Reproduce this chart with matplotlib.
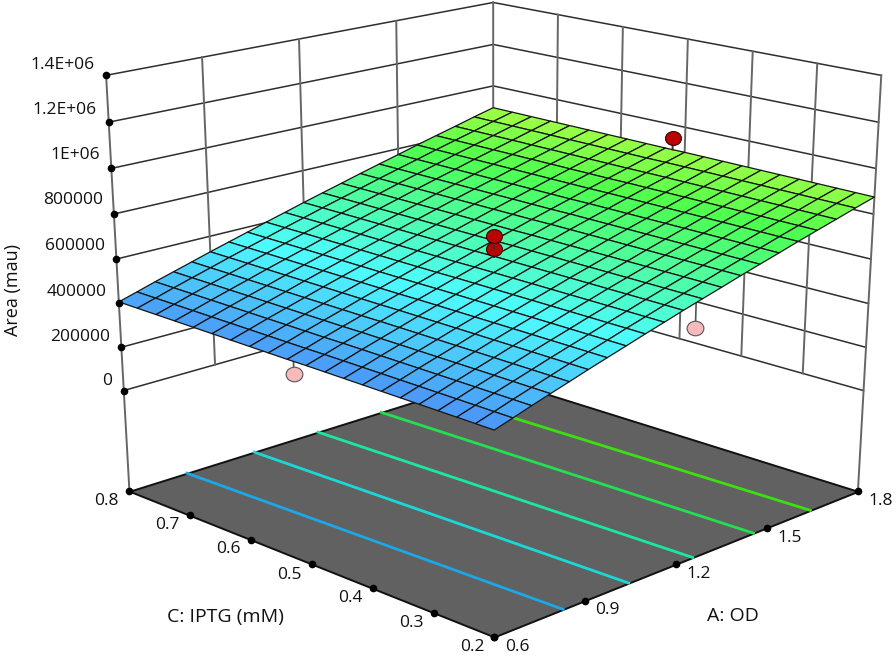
import numpy as np
import matplotlib
matplotlib.use("Agg")
import matplotlib.pyplot as plt
from matplotlib.colors import LinearSegmentedColormap, Normalize
from matplotlib.markers import MarkerStyle
from matplotlib.transforms import Affine2D
from mpl_toolkits.mplot3d.art3d import Poly3DCollection

plt.rcParams["font.family"] = "Open Sans"

# axis values
a_ticks = [0.6, 0.9, 1.2, 1.5, 1.8]
c_ticks = [0.2, 0.3, 0.4, 0.5, 0.6, 0.7, 0.8]
z_ticks = [0, 2e5, 4e5, 6e5, 8e5, 1e6, 1.2e6, 1.4e6]
z_labels = ["0", "200000", "400000", "600000", "800000", "1E+06", "1.2E+06", "1.4E+06"]
a_labels = ["0.6", "0.9", "1.2", "1.5", "1.8"]
c_labels = ["0.2", "0.3", "0.4", "0.5", "0.6", "0.7", "0.8"]
floor_z = -475932

# response surface, rows are A, columns are C, in thousands of mau
a_grid = [0.60, 0.66, 0.72, 0.78, 0.84, 0.90, 0.96, 1.02, 1.08, 1.14, 1.20,
          1.26, 1.32, 1.38, 1.44, 1.50, 1.56, 1.62, 1.68, 1.74, 1.80]
c_grid = [0.20, 0.23, 0.26, 0.29, 0.32, 0.35, 0.38, 0.41, 0.44, 0.47, 0.50,
          0.53, 0.56, 0.59, 0.62, 0.65, 0.68, 0.71, 0.74, 0.77, 0.80]
area_grid = [
    [388, 389, 390, 391, 392, 393, 394, 395, 396, 397, 398, 398, 399, 400, 401, 402, 403, 404, 405, 406, 407],
    [412, 413, 414, 415, 416, 417, 418, 419, 420, 421, 422, 422, 423, 424, 425, 426, 427, 428, 429, 430, 431],
    [437, 438, 439, 440, 441, 442, 443, 444, 445, 446, 447, 447, 448, 449, 450, 451, 452, 453, 454, 455, 456],
    [461, 462, 463, 464, 465, 466, 467, 468, 469, 470, 471, 471, 472, 473, 474, 475, 476, 477, 478, 479, 480],
    [485, 486, 487, 488, 489, 490, 491, 492, 493, 494, 495, 495, 496, 497, 498, 499, 500, 501, 502, 503, 504],
    [510, 511, 512, 513, 514, 515, 516, 517, 518, 519, 520, 520, 521, 522, 523, 524, 525, 526, 527, 528, 529],
    [534, 535, 536, 537, 538, 539, 540, 541, 542, 543, 544, 544, 545, 546, 547, 548, 549, 550, 551, 552, 553],
    [558, 559, 560, 561, 562, 563, 564, 565, 566, 567, 568, 568, 569, 570, 571, 572, 573, 574, 575, 576, 577],
    [583, 584, 585, 586, 587, 588, 589, 590, 591, 592, 593, 593, 594, 595, 596, 597, 598, 599, 600, 601, 602],
    [607, 608, 609, 610, 611, 612, 613, 614, 615, 616, 617, 617, 618, 619, 620, 621, 622, 623, 624, 625, 626],
    [632, 633, 634, 635, 636, 637, 638, 639, 640, 641, 642, 642, 643, 644, 645, 646, 647, 648, 649, 650, 651],
    [656, 657, 658, 659, 660, 661, 662, 663, 664, 665, 666, 666, 667, 668, 669, 670, 671, 672, 673, 674, 675],
    [680, 681, 682, 683, 684, 685, 686, 687, 688, 689, 690, 690, 691, 692, 693, 694, 695, 696, 697, 698, 699],
    [705, 706, 707, 708, 709, 710, 711, 712, 713, 714, 715, 715, 716, 717, 718, 719, 720, 721, 722, 723, 724],
    [729, 730, 731, 732, 733, 734, 735, 736, 737, 738, 739, 739, 740, 741, 742, 743, 744, 745, 746, 747, 748],
    [753, 754, 755, 756, 757, 758, 759, 760, 761, 762, 763, 763, 764, 765, 766, 767, 768, 769, 770, 771, 772],
    [778, 779, 780, 781, 782, 783, 784, 785, 786, 787, 788, 788, 789, 790, 791, 792, 793, 794, 795, 796, 797],
    [802, 803, 804, 805, 806, 807, 808, 809, 810, 811, 812, 812, 813, 814, 815, 816, 817, 818, 819, 820, 821],
    [826, 827, 828, 829, 830, 831, 832, 833, 834, 835, 836, 836, 837, 838, 839, 840, 841, 842, 843, 844, 845],
    [851, 852, 853, 854, 855, 856, 857, 858, 859, 860, 861, 861, 862, 863, 864, 865, 866, 867, 868, 869, 870],
    [875, 876, 877, 878, 879, 880, 881, 882, 883, 884, 885, 885, 886, 887, 888, 889, 890, 891, 892, 893, 894],
]

# contours on the floor, A value at C=0.2 and at C=0.8
contour_a_low = [0.828, 1.044, 1.254, 1.454, 1.642]
contour_a_high = [0.793, 1.016, 1.226, 1.433, 1.620]
contour_colors = ["#1aa8e8", "#1ad8d8", "#1ae8a0", "#22e050", "#3ce010"]

# design points below and above the surface
below_a = [0.6, 1.24]
below_c = [0.52, 0.2]
below_z = [345000, 540000]
below_top = [400000, 665000]
above_a = [1.2, 1.2, 1.8]
above_c = [0.5, 0.5, 0.519]
above_z = [674000, 733000, 940000]
above_bottom = [640000, 674000, 885000]

# camera fitted to the picture; axes run past the figure so the view centre sits low
WARP = -0.128
cx, cy, sx, sy = 483.02, 1161.09, 787.48, 944.01
z_centre = -3984641

fig = plt.figure(figsize=(8.96, 6.56), dpi=100)
ax = fig.add_axes([(cx - sx / 2) / 896, (656 - cy - sy / 2) / 656, sx / 896, sy / 656], projection="3d")
ax.apply_aspect = lambda position=None: None
ax.view_init(elev=28.4267, azim=-135.0292)
ax.set_proj_type("persp", focal_length=0.6186)
ax.set_box_aspect((1, 1.0017, 1.0354))
ax.set_xlim(0.6, 1.8)
ax.set_ylim(0.2, 0.8)
ax.set_zlim(z_centre - 1.5e6, z_centre + 1.5e6)
ax.set_axis_off()
ax.computed_zorder = False


def wa(a):
    # the original spaces ticks evenly on screen despite the perspective
    t = (np.asarray(a, float) - 0.6) / 1.2
    return 0.6 + 1.2 * (t + WARP * t * (1 - t))


def wc(c):
    t = (np.asarray(c, float) - 0.2) / 0.6
    return 0.2 + 0.6 * (t + WARP * t * (1 - t))


def line(a, c, z, **kw):
    ax.plot(wa(a), wc(c), z, clip_on=False, **kw)


# walls
wall = dict(color="#2e2e2e", lw=1.1, zorder=1)
post = dict(color="#666666", lw=1.4, zorder=1)
for z in z_ticks:
    line([0.6, 1.8], [0.8, 0.8], [z, z], **wall)
    line([1.8, 1.8], [0.8, 0.2], [z, z], **wall)
for a in a_ticks[1:-1]:
    line([a, a], [0.8, 0.8], [0, 1.4e6], **post)
for c in c_ticks[1:-1]:
    line([1.8, 1.8], [c, c], [0, 1.4e6], **post)
line([0.6, 0.6], [0.8, 0.8], [floor_z, 1.4e6], **post)
line([1.8, 1.8], [0.2, 0.2], [floor_z, 1.4e6], **post)
line([1.8, 1.8], [0.8, 0.8], [floor_z, 1.4e6], **post)

# floor and contours
floor_a = wa([0.6, 1.8, 1.8, 0.6])
floor_c = wc([0.8, 0.8, 0.2, 0.2])
floor = Poly3DCollection([list(zip(floor_a, floor_c, [floor_z] * 4))], facecolors="#616161",
                         edgecolors="#111111", linewidths=1.4, zorder=2)
floor.set_clip_on(False)
ax.add_collection3d(floor, autolim=False)
for a0, a1, col in zip(contour_a_low, contour_a_high, contour_colors):
    line([a0, a1], [0.2, 0.8], [floor_z, floor_z], color=col, lw=2, zorder=3)

# points under the surface
ellipse = MarkerStyle("o", transform=Affine2D().scale(1.15, 1))
for a, c, z, top in zip(below_a, below_c, below_z, below_top):
    line([a, a], [c, c], [z, top], color="#555555", lw=1.2, zorder=4)
    line([a], [c], [z], marker=ellipse, ms=10.5, mfc="#f7b9b9", mec="#555555", mew=0.8, ls="none", zorder=4)

# surface
AA, CC = np.meshgrid(a_grid, c_grid, indexing="ij")
cmap = LinearSegmentedColormap.from_list(
    "de", [(0, "#4b93f7"), (0.35, "#4dfcff"), (0.8, "#4dff4d"), (1, "#a2ff45")])
surf = ax.plot_surface(wa(AA), wc(CC), np.array(area_grid) * 1000.0, rstride=1, cstride=1, cmap=cmap,
                       norm=Normalize(388000, 894000), edgecolor="#151515", linewidth=0.9, zorder=5)
surf.set_clip_on(False)

# points over the surface
for a, c, z, bottom in zip(above_a, above_c, above_z, above_bottom):
    line([a, a], [c, c], [bottom, z], color="#333333", lw=1.4, zorder=6)
    line([a], [c], [z], marker=ellipse, ms=10, mfc="#b80404", mec="#400000", mew=0.8, ls="none", zorder=6)

# tick dots
dot = dict(marker="o", ms=4.5, color="black", ls="none", zorder=7)
for z in z_ticks:
    line([0.6], [0.8], [z], **dot)
for c in c_ticks:
    line([0.6], [c], [floor_z], **dot)
for a in a_ticks:
    line([a], [0.2], [floor_z], **dot)


def label(x, y, s, size=12.5, ha="center", **kw):
    fig.text(x / 896, 1 - y / 656, s, ha=ha, va="center", fontsize=size, color="#111111", **kw)


for s, lx, ly in zip(z_labels, [112, 110, 107, 105, 103, 100, 97, 95], [381, 337, 292, 246, 200, 155, 110, 65]):
    label(lx, ly, s, ha="right")
for s, lx, ly in zip(c_labels, [472, 411, 350, 289, 228, 167, 106], [647, 623, 598, 575, 549, 525, 501]):
    label(lx, ly, s)
for s, lx, ly in zip(a_labels, [517, 607, 699, 790, 881], [647, 610, 574, 538, 501]):
    label(lx, ly, s)
label(225, 617, "C: IPTG (mM)", size=14)
label(733, 616, "A: OD", size=14)
label(13, 290, "Area (mau)", size=13, rotation=90)

fig.savefig("out.png", dpi=100)
